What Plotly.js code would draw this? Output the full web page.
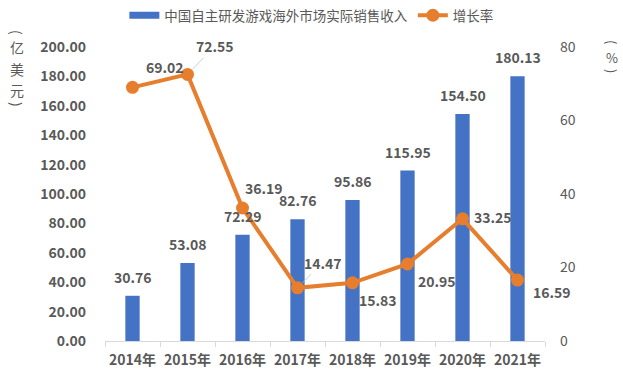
<!DOCTYPE html>
<html><head><meta charset="utf-8">
<script src="https://cdn.plot.ly/plotly-3.0.1.min.js"></script>
<style>body{margin:0;background:#fff}#c{width:623px;height:379px}</style>
</head><body><div id="c"></div>
<script>
const years = ['2014年','2015年','2016年','2017年','2018年','2019年','2020年','2021年'];
const revenue = [30.76, 53.08, 72.29, 82.76, 95.86, 115.95, 154.50, 180.13];
const growth = [69.02, 72.55, 36.19, 14.47, 15.83, 20.95, 33.25, 16.59];
const seriesNames = ['中国自主研发游戏海外市场实际销售收入', '增长率'];
const leftTitleChars = ['(','亿','美','元',')'];
const rightTitleChars = ['(','%',')'];
// pixel offsets for growth labels (style only)
const gOff = [[32,-20],[27,-28],[21,-20],[25,-25],[25,17],[29,17],[30,-2],[34,12]];
const leader = [false,true,false,true,false,false,false,false];

const FONT = 'Noto Sans CJK SC, Noto Sans, sans-serif';
const GRAY = '#595959';
const BLUE = '#4472C4', ORANGE = '#E67E2E';
const PT = 47, PH = 294, PL = 105, PW = 440;
const px2py = y => (PT + PH - y) / PH;
const px2px = x => (x - PL) / PW;
const ann = [];
revenue.forEach((v,i)=>{
  ann.push({x: years[i], y: v, xref:'x', yref:'y', text: '<b>'+v.toFixed(2)+'</b>',
    showarrow:false, yanchor:'bottom', yshift:7, font:{size:14, color:GRAY, family:FONT}});
});
growth.forEach((v,i)=>{
  if (leader[i]) {
    ann.push({x: years[i], y: v, xref:'x', yref:'y2', text:'<b>'+v.toFixed(2)+'</b>',
      showarrow:true, arrowhead:0, arrowwidth:0.8, arrowcolor:'#BFBFBF', standoff:7,
      ax:gOff[i][0], ay:gOff[i][1], font:{size:14, color:GRAY, family:FONT}});
  } else {
    ann.push({x: years[i], y: v, xref:'x', yref:'y2', text:'<b>'+v.toFixed(2)+'</b>',
      showarrow:false, xshift:gOff[i][0], yshift:-gOff[i][1], font:{size:14, color:GRAY, family:FONT}});
  }
});
const leftY = [32, 47, 69, 90, 104];
leftTitleChars.forEach((c,i)=>{
  const paren = (c==='(' || c===')');
  ann.push({xref:'paper', yref:'paper', x:px2px(17), y:px2py(leftY[i]), xanchor:'center', yanchor:'middle',
    text:c, textangle: paren ? 90 : 0, showarrow:false, font:{size:14, color:GRAY, family:FONT}});
});
const rightY = [42, 57, 71];
rightTitleChars.forEach((c,i)=>{
  const paren = (c==='(' || c===')');
  ann.push({xref:'paper', yref:'paper', x:px2px(612), y:px2py(rightY[i]), xanchor:'center', yanchor:'middle',
    text:c, textangle: paren ? 90 : 0, showarrow:false, font:{size:13, color:GRAY, family:FONT}});
});

const data = [
  {type:'bar', name: seriesNames[0], x: years, y: revenue, width:0.26, showlegend:false,
   marker:{color:BLUE}, hoverinfo:'none'},
  // legend entry for the bars, drawn as a wide swatch like the reference
  {type:'scatter', mode:'lines', name: seriesNames[0], x:[null], y:[null],
   line:{color:BLUE, width:7}, hoverinfo:'none'},
  {type:'scatter', mode:'lines+markers', name: seriesNames[1], x: years, y: growth, yaxis:'y2',
   line:{color:ORANGE, width:4}, marker:{color:ORANGE, size:13}, hoverinfo:'none'}
];
const layout = {
  width:623, height:379,
  margin:{l:PL, r:623-PL-PW, t:PT, b:379-PT-PH, autoexpand:false},
  paper_bgcolor:'#fff', plot_bgcolor:'#fff',
  font:{family:FONT, color:GRAY},
  showlegend:true,
  legend:{orientation:'h', x:0.469, xanchor:'center', yref:'container', y:1.0, yanchor:'top',
    font:{size:13.5, color:GRAY, family:FONT}, itemwidth:30, tracegroupgap:0, bgcolor:'rgba(0,0,0,0)'},
  xaxis:{type:'category', range:[-0.5, years.length-0.5], automargin:false, tickangle:0, showline:true, linecolor:'#D9D9D9', linewidth:1,
    ticks:'outside', tickson:'boundaries', ticklen:5, tickcolor:'#D9D9D9', ticklabelstandoff:6,
    tickfont:{size:14, color:GRAY, family:FONT}, showgrid:false, zeroline:false,
    tickprefix:'<b>', ticksuffix:'</b>'},
  yaxis:{range:[0,200], dtick:20, tickformat:'.2f', automargin:false, showgrid:false, zeroline:false,
    showline:false, ticks:'', ticklabelstandoff:18,
    tickfont:{size:14, color:GRAY, family:FONT}, tickprefix:'<b>', ticksuffix:'</b>'},
  yaxis2:{range:[0,80], dtick:20, overlaying:'y', side:'right', automargin:false, showgrid:false, zeroline:false,
    showline:false, ticks:'', ticklabelstandoff:14,
    tickfont:{size:14, color:GRAY, family:FONT}},
  annotations: ann
};
Plotly.newPlot('c', data, layout, {displayModeBar:false, staticPlot:true});
</script></body></html>
